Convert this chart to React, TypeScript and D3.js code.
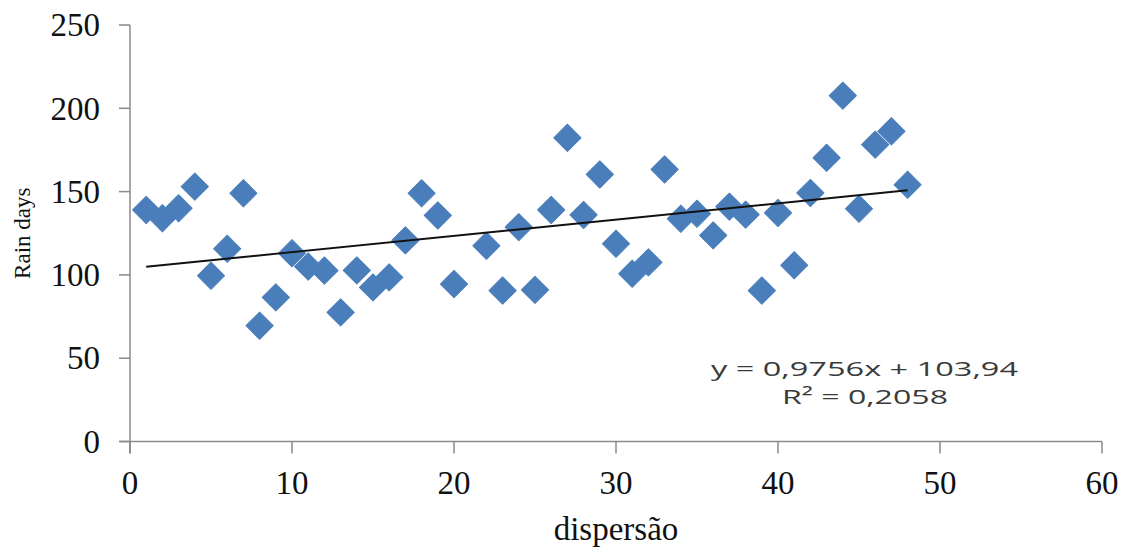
import React, { useRef, useEffect } from 'react';
import * as d3 from 'd3';

const width = 1122;
const height = 550;

// dispersão (x) and rain days (y)
const dispersao = [1, 2, 3, 4, 5, 6, 7, 8, 9, 10, 11, 12, 13, 14, 15, 16, 17, 18, 19, 20,
  22, 23, 24, 25, 26, 27, 28, 29, 30, 31, 32, 33, 34, 35, 36, 37, 38, 39, 40, 41, 42, 43, 44, 45, 46, 47, 48];
const rainDays = [139, 134, 140, 153, 99.5, 115.7, 149, 69.5, 86.5, 113, 105, 102.6, 77.5, 102.7, 92.5, 98.5, 120.7, 149, 135.7, 94.5,
  117.5, 90.6, 128.7, 91, 139, 182.3, 136, 160.3, 118.7, 100.7, 107.5, 163.3, 133.7, 136.7, 123.7, 141, 136.2, 90.6, 137.2, 105.8,
  149.2, 170.3, 207.6, 139.7, 178.2, 186.2, 154.1];

const xTicks = [0, 10, 20, 30, 40, 50, 60];
const yTicks = [0, 50, 100, 150, 200, 250];

const slope = 0.9756;
const intercept = 103.94;
const equationLabel = 'y = 0,9756x + 103,94';
const r2Label = 'R² = 0,2058';

const axisColor = '#8a8a8a';
const markerColor = '#4a7ebb';
const serif = '"Liberation Serif", "Times New Roman", serif';

const App = () => {
  const svgRef = useRef<SVGSVGElement>(null);

  useEffect(() => {
    const svg = d3.select(svgRef.current);
    svg.selectAll('*').remove();

    const x = d3.scaleLinear().domain([0, 60]).range([130, 1102]);
    const y = d3.scaleLinear().domain([0, 250]).range([441.5, 25]);

    // y axis
    const yAxis = svg.append('g');
    yAxis.append('line')
      .attr('x1', x(0)).attr('x2', x(0))
      .attr('y1', y(250)).attr('y2', y(0) + 12)
      .attr('stroke', axisColor).attr('stroke-width', 1.5);
    yAxis.selectAll('.ytick')
      .data(yTicks)
      .join('line')
      .attr('x1', x(0) - 11).attr('x2', x(0))
      .attr('y1', d => y(d)).attr('y2', d => y(d))
      .attr('stroke', axisColor).attr('stroke-width', 1.5);
    yAxis.selectAll('.ylabel')
      .data(yTicks)
      .join('text')
      .attr('x', 100)
      .attr('y', d => y(d))
      .attr('dy', '0.34em')
      .attr('text-anchor', 'end')
      .style('font-family', serif)
      .style('font-size', '33px')
      .attr('fill', '#111')
      .text(d => d);

    // x axis
    const xAxis = svg.append('g');
    xAxis.append('line')
      .attr('x1', x(0) - 11).attr('x2', x(60))
      .attr('y1', y(0)).attr('y2', y(0))
      .attr('stroke', axisColor).attr('stroke-width', 1.5);
    xAxis.selectAll('.xtick')
      .data(xTicks)
      .join('line')
      .attr('x1', d => x(d)).attr('x2', d => x(d))
      .attr('y1', y(0)).attr('y2', y(0) + 12)
      .attr('stroke', axisColor).attr('stroke-width', 1.5);
    xAxis.selectAll('.xlabel')
      .data(xTicks)
      .join('text')
      .attr('x', d => x(d))
      .attr('y', 494)
      .attr('text-anchor', 'middle')
      .style('font-family', serif)
      .style('font-size', '33px')
      .attr('fill', '#111')
      .text(d => d);

    // axis titles
    svg.append('text')
      .attr('x', 616).attr('y', 540)
      .attr('text-anchor', 'middle')
      .style('font-family', serif)
      .style('font-size', '33px')
      .attr('fill', '#111')
      .text('dispersão');

    svg.append('text')
      .attr('transform', `translate(30, ${y(125)}) rotate(-90)`)
      .attr('text-anchor', 'middle')
      .style('font-family', serif)
      .style('font-size', '23px')
      .attr('fill', '#111')
      .text('Rain days');

    // points
    const diamond = d3.symbol(d3.symbolSquare, 370);
    svg.append('g')
      .selectAll('path')
      .data(dispersao)
      .join('path')
      .attr('d', diamond)
      .attr('transform', (d, i) => `translate(${x(d)}, ${y(rainDays[i])}) rotate(45)`)
      .attr('fill', markerColor)
      .attr('stroke', markerColor)
      .attr('stroke-width', 1)
      .attr('stroke-linejoin', 'round');

    // trend line
    const x0 = d3.min(dispersao) as number;
    const x1 = d3.max(dispersao) as number;
    svg.append('line')
      .attr('x1', x(x0)).attr('y1', y(slope * x0 + intercept))
      .attr('x2', x(x1)).attr('y2', y(slope * x1 + intercept))
      .attr('stroke', '#111')
      .attr('stroke-width', 2);

    // equation
    svg.append('text')
      .attr('x', 711).attr('y', 376)
      .attr('textLength', 307)
      .attr('lengthAdjust', 'spacingAndGlyphs')
      .style('font-family', '"Open Sans", sans-serif')
      .style('font-size', '20px')
      .attr('fill', '#3a3a3a')
      .text(equationLabel);
    svg.append('text')
      .attr('x', 782).attr('y', 404)
      .attr('textLength', 166)
      .attr('lengthAdjust', 'spacingAndGlyphs')
      .style('font-family', '"Open Sans", sans-serif')
      .style('font-size', '20px')
      .attr('fill', '#3a3a3a')
      .text(r2Label);
  }, []);

  return (
    <svg
      ref={svgRef}
      width={width}
      height={height}
      style={{ position: 'absolute', left: 0, top: 0, background: '#fff' }}
    ></svg>
  );
};

export default App;
